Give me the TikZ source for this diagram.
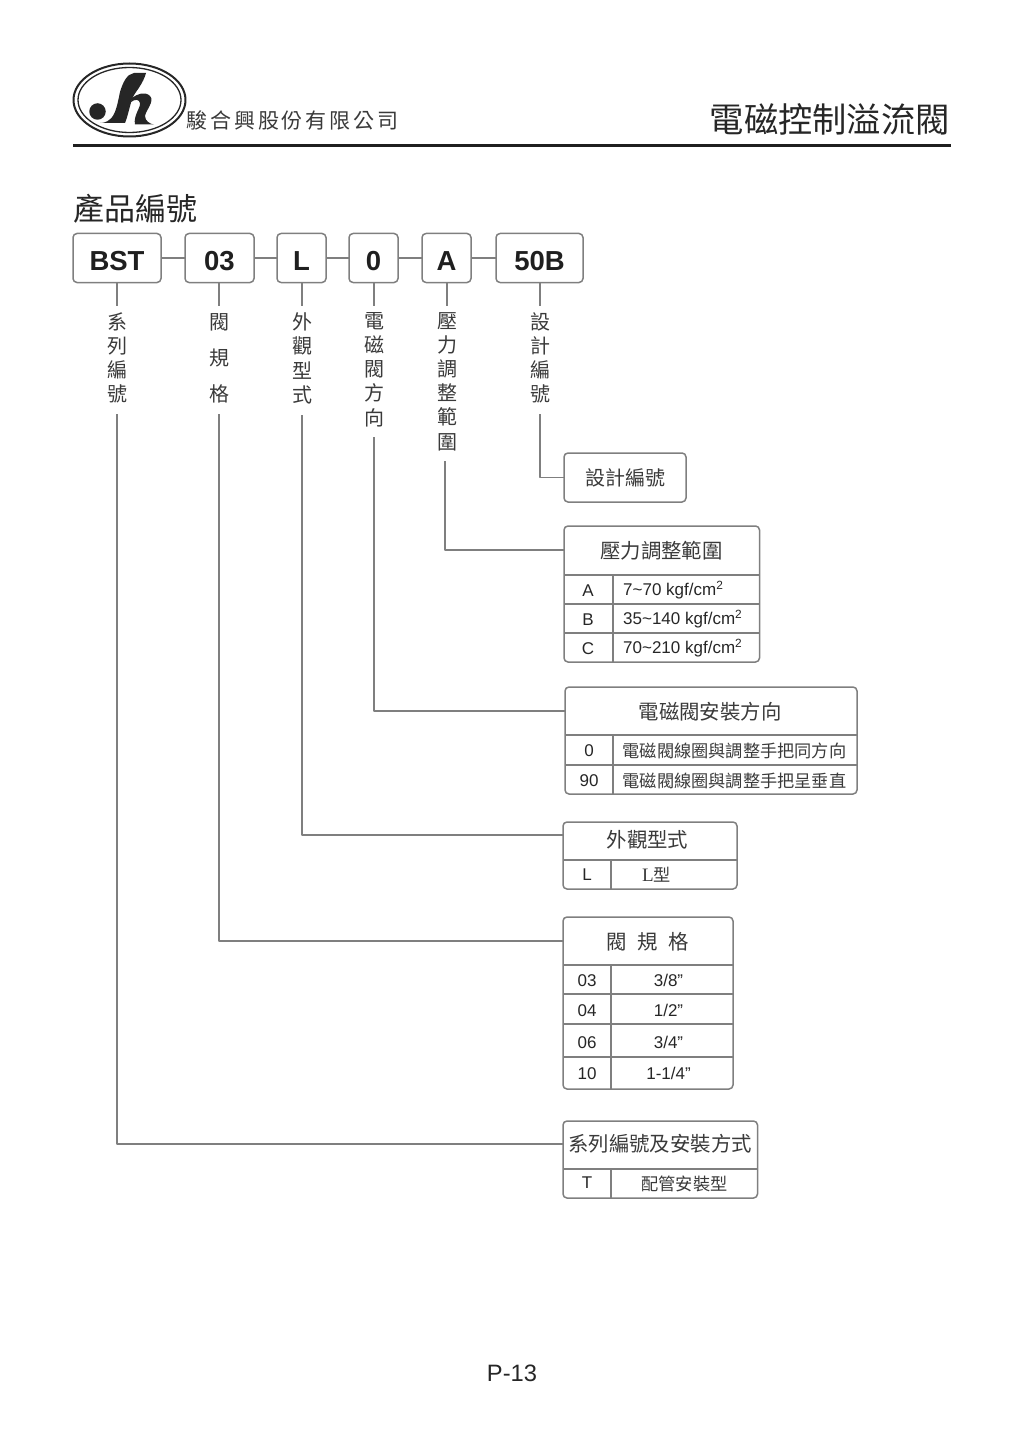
\documentclass[tikz,border=0pt]{standalone}
\usepackage{fontspec}
\usetikzlibrary{shapes.geometric}
\setmainfont{Liberation Sans}
\newfontfamily\cjk{Noto Sans CJK TC}
\newfontfamily\cjkwide[LetterSpace=14]{Noto Sans CJK TC}
\newfontfamily\serifl{Liberation Serif}
\definecolor{linegray}{HTML}{7F7F7F}
\definecolor{inkgray}{HTML}{3A3A3A}
\newcommand*{\fs}[1]{\fontsize{#1}{#1}\selectfont}

\begin{document}
\begin{tikzpicture}[x=1pt, y=-1pt, line join=round,
    codebox/.style={draw=linegray, line width=1.5pt, rounded corners=4pt, inner sep=0pt, outer sep=0pt, minimum height=49pt, text height=24pt, text depth=0pt, font=\bfseries\fs{27.5}, text=black!88},
    tblbox/.style={draw=linegray, line width=1.5pt, rounded corners=4pt, inner sep=0pt, outer sep=0pt, anchor=north west},
    tblrule/.style={draw=linegray, line width=1.5pt},
    link/.style={draw=linegray, line width=1.5pt},
    vlabel/.style={inner sep=0pt, outer sep=0pt, anchor=north, yshift=4pt, align=center, text=inkgray, font=\cjk\fs{20}},
    tblhead/.style={inner sep=0pt, text=inkgray, font=\cjk\fs{20.4}},
    cell/.style={inner sep=0pt, text=black!85, font=\fs{17}},
    cellcjk/.style={inner sep=0pt, text=inkgray, font=\cjk\fs{17.2}}]
  \useasboundingbox (0,0) rectangle (1024,1447);

  % logo
  \node (logoout) [draw=black!85, line width=2pt, outer sep=0pt, ellipse, minimum width=112pt, minimum height=73pt, inner sep=0pt] at (129.5,100) {};
  \node (logoin) [draw=black!85, line width=1.3pt, outer sep=0pt, ellipse, minimum width=103pt, minimum height=65pt, inner sep=0pt] at (129.5,100) {};
  \node (logodot) [fill=black!85, circle, minimum size=16.5pt, inner sep=0pt] at (97.5,111.5) {};
  \fill[black!85] (146,73) -- (134,73) .. controls (127,74) and (123,82) .. (120,92)
    .. controls (118,101) and (116,116) .. (109,120)
    .. controls (107,122) and (103,123) .. (100,123) -- (125,123)
    .. controls (128,116) and (130,104) .. (133,97)
    .. controls (136,91) and (143,84) .. (146,73) -- cycle;
  \fill[black!85] (132,98) .. controls (137,94) and (145,91) .. (150,96)
    .. controls (155,101) and (146,110) .. (145,116)
    .. controls (145,121) and (150,124) .. (154,124.5) -- (135,124.5)
    .. controls (133,116) and (141,107) .. (140,103)
    .. controls (139,99) and (135,99) .. (131,102) -- cycle;

  \node (company) [inner sep=0pt, anchor=west, text=inkgray, font=\cjkwide\fs{21}] at (186,120) {駿合興股份有限公司};
  \node (doctitle) [inner sep=0pt, anchor=east, text=black!85, font=\cjk\fs{34.3}] at (950,119) {電磁控制溢流閥};
  \draw[black!88, line width=3pt] (73,146) -- (951,146);
  \node (section) [inner sep=0pt, anchor=west, text=black!85, font=\cjk\fs{31}] at (73,209) {產品編號};

  % code row
  \node (bst) [codebox, minimum width=88pt] at (117,258) {BST};
  \node (size) [codebox, minimum width=69pt] at (219.5,258) {03};
  \node (shape) [codebox, minimum width=49pt] at (301.5,258) {L};
  \node (dir) [codebox, minimum width=49pt] at (373.5,258) {0};
  \node (press) [codebox, minimum width=49pt] at (446.5,258) {A};
  \node (design) [codebox, minimum width=87pt] at (539.5,258) {50B};
  \draw[link] (bst) -- (size);
  \draw[link] (size) -- (shape);
  \draw[link] (shape) -- (dir);
  \draw[link] (dir) -- (press);
  \draw[link] (press) -- (design);

  % labels under the codes
  \node (lblbst) [vlabel, minimum height=112pt] at (117,306) {系\\[4.2pt]列\\[4.2pt]編\\[4.2pt]號};
  \node (lblsize) [vlabel, minimum height=112pt] at (219,306) {閥\\[16pt]規\\[16pt]格};
  \node (lblshape) [vlabel, minimum height=113pt] at (302,306) {外\\[4.2pt]觀\\[4.2pt]型\\[4.2pt]式};
  \node (lbldir) [vlabel, minimum height=135pt] at (374,306) {電\\[4.2pt]磁\\[4.2pt]閥\\[4.2pt]方\\[4.2pt]向};
  \node (lblpress) [vlabel, minimum height=159pt] at (447,306) {壓\\[4.2pt]力\\[4.2pt]調\\[4.2pt]整\\[4.2pt]範\\[4.2pt]圍};
  \node (lbldesign) [vlabel, minimum height=112pt] at (540,306) {設\\[4.2pt]計\\[4.2pt]編\\[4.2pt]號};
  \coordinate (topbst) at (117,306);
  \coordinate (topsize) at (219,306);
  \coordinate (topshape) at (302,306);
  \coordinate (topdir) at (374,306);
  \coordinate (toppress) at (447,306);
  \coordinate (topdesign) at (540,306);
  \draw[link] (bst.south -| topbst) -- (topbst);
  \draw[link] (size.south -| topsize) -- (topsize);
  \draw[link] (shape.south -| topshape) -- (topshape);
  \draw[link] (dir.south -| topdir) -- (topdir);
  \draw[link] (press.south -| toppress) -- (toppress);
  \draw[link] (design.south -| topdesign) -- (topdesign);

  % design no.
  \node (tbldesign) [tblbox, minimum width=122pt, minimum height=49pt, text=inkgray, font=\cjk\fs{20}] at (564,453) {設計編號};

  % pressure
  \node (tblpress) [tblbox, minimum width=195.5pt, minimum height=136pt] at (564,526) {};
  \coordinate (headpress) at (564,550);
  \node (ttlpress) [tblhead] at (661.5,551) {壓力調整範圍};
  \draw[tblrule] (564,575) -- (759.5,575) (564,604) -- (759.5,604) (564,633) -- (759.5,633) (613,575) -- (613,662);
  \foreach \Name/\Ypos/\Code/\Range in {a/590/A/{7\textasciitilde70 kgf/cm\textsuperscript{2}}, b/619/B/{35\textasciitilde140 kgf/cm\textsuperscript{2}}, c/648/C/{70\textasciitilde210 kgf/cm\textsuperscript{2}}} {
    \node (press\Name) [cell] at (588,\Ypos+0.5) {\Code};
    \node (range\Name) [cell, anchor=west] at (623,\Ypos+0.3) {\Range};
  }

  % valve direction
  \node (tbldir) [tblbox, minimum width=292pt, minimum height=107pt] at (565,687) {};
  \coordinate (headdir) at (565,711);
  \node (ttldir) [tblhead] at (710,712) {電磁閥安裝方向};
  \draw[tblrule] (565,735) -- (857,735) (565,765) -- (857,765) (613,735) -- (613,794);
  \node (dirzero) [cell] at (589,750.5) {0};
  \node (dirninety) [cell] at (589,780.5) {90};
  \node (dirsame) [cellcjk, anchor=west] at (622.5,751) {電磁閥線圈與調整手把同方向};
  \node (dirvert) [cellcjk, anchor=west] at (622.5,781) {電磁閥線圈與調整手把呈垂直};

  % shape
  \node (tblshape) [tblbox, minimum width=174pt, minimum height=67pt] at (563,822) {};
  \coordinate (headshape) at (563,835);
  \node (ttlshape) [tblhead] at (647.5,840) {外觀型式};
  \draw[tblrule] (563,860) -- (737,860) (611,860) -- (611,889);
  \node (shapel) [cell] at (587,875) {L};
  \node (shapetype) [cellcjk, anchor=west] at (642,875) {{\serifl\fs{19}L}型};

  % size
  \node (tblsize) [tblbox, minimum width=170pt, minimum height=172pt] at (563,917) {};
  \coordinate (headsize) at (563,941);
  \node (ttlsize) [tblhead] at (648,942) {閥\hspace{10.5pt}規\hspace{10.5pt}格};
  \draw[tblrule] (563,965) -- (733,965) (563,994) -- (733,994) (563,1024) -- (733,1024) (563,1057) -- (733,1057) (611,965) -- (611,1089);
  \foreach \Name/\Ypos/\Code/\Inch in {a/980/03/{3/8”}, b/1010/04/{1/2”}, c/1042/06/{3/4”}, d/1073/10/{1-1/4”}} {
    \node (size\Name) [cell] at (587,\Ypos+0.5) {\Code};
    \node (inch\Name) [cell] at (668.5,\Ypos+0.3) {\Inch};
  }

  % series
  \node (tblbst) [tblbox, minimum width=194.5pt, minimum height=77pt] at (563,1121) {};
  \coordinate (headbst) at (563,1144);
  \node (ttlbst) [tblhead] at (660,1144) {系列編號及安裝方式};
  \draw[tblrule] (563,1169) -- (757.5,1169) (611,1169) -- (611,1198);
  \node (bstt) [cell] at (587,1182.5) {T};
  \node (bsttype) [cellcjk] at (684.5,1184) {配管安裝型};

  % long connectors
  \draw[link] (lbldesign.south) |- (tbldesign.west);
  \draw[link] (lblpress.south -| 445,0) |- (headpress);
  \draw[link] (lbldir.south) |- (headdir);
  \draw[link] (lblshape.south) |- (headshape);
  \draw[link] (lblsize.south) |- (headsize);
  \draw[link] (lblbst.south) |- (headbst);

  \node (pageno) [inner sep=0pt, text=black!85, font=\fs{23.7}] at (512,1373) {P-13};
\end{tikzpicture}
\end{document}
